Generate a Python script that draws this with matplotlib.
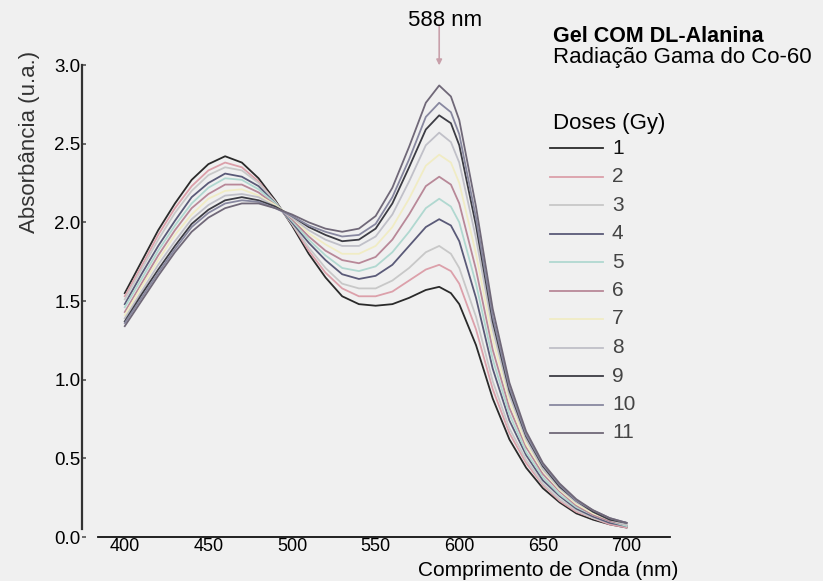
import matplotlib
matplotlib.use("Agg")
import matplotlib.pyplot as plt
from matplotlib.lines import Line2D

plt.rcParams['font.family'] = ['Liberation Sans', 'DejaVu Sans']

# wavelength grid (nm)
wavelength = [400, 410, 420, 430, 440, 450, 460, 470, 480, 490, 500, 510, 520, 530,
              540, 550, 560, 570, 580, 588, 595, 600, 610, 620, 630, 640, 650, 660,
              670, 680, 690, 700]

# absorbance per dose
dose_1 = [1.55, 1.75, 1.95, 2.12, 2.27, 2.37, 2.42, 2.38, 2.28, 2.14, 1.98, 1.80, 1.65, 1.53,
          1.48, 1.47, 1.48, 1.52, 1.57, 1.59, 1.55, 1.48, 1.22, 0.88, 0.62, 0.44, 0.31, 0.22,
          0.15, 0.11, 0.08, 0.06]
dose_2 = [1.53, 1.72, 1.92, 2.09, 2.23, 2.33, 2.38, 2.35, 2.26, 2.13, 1.99, 1.82, 1.68, 1.58,
          1.53, 1.53, 1.56, 1.63, 1.70, 1.73, 1.69, 1.61, 1.32, 0.94, 0.66, 0.47, 0.33, 0.23,
          0.16, 0.12, 0.08, 0.06]
dose_3 = [1.51, 1.70, 1.89, 2.06, 2.20, 2.30, 2.35, 2.33, 2.25, 2.13, 1.99, 1.84, 1.71, 1.61,
          1.58, 1.58, 1.63, 1.71, 1.81, 1.85, 1.80, 1.71, 1.40, 0.99, 0.69, 0.49, 0.34, 0.24,
          0.17, 0.12, 0.09, 0.07]
dose_4 = [1.48, 1.67, 1.85, 2.01, 2.16, 2.25, 2.31, 2.29, 2.23, 2.12, 2.00, 1.87, 1.76, 1.67,
          1.64, 1.66, 1.73, 1.85, 1.97, 2.02, 1.98, 1.88, 1.52, 1.07, 0.74, 0.52, 0.36, 0.26,
          0.18, 0.13, 0.09, 0.07]
dose_5 = [1.46, 1.64, 1.82, 1.98, 2.12, 2.22, 2.28, 2.27, 2.21, 2.12, 2.01, 1.89, 1.79, 1.71,
          1.69, 1.72, 1.81, 1.94, 2.09, 2.15, 2.10, 2.00, 1.61, 1.13, 0.78, 0.54, 0.38, 0.27,
          0.19, 0.14, 0.10, 0.07]
dose_6 = [1.43, 1.61, 1.79, 1.95, 2.09, 2.18, 2.24, 2.24, 2.19, 2.11, 2.02, 1.91, 1.82, 1.76,
          1.74, 1.78, 1.89, 2.05, 2.23, 2.29, 2.24, 2.12, 1.70, 1.19, 0.82, 0.57, 0.40, 0.29,
          0.20, 0.14, 0.10, 0.08]
dose_7 = [1.41, 1.59, 1.76, 1.92, 2.05, 2.15, 2.20, 2.21, 2.17, 2.11, 2.03, 1.93, 1.86, 1.80,
          1.80, 1.85, 1.97, 2.15, 2.36, 2.43, 2.38, 2.25, 1.80, 1.26, 0.86, 0.59, 0.42, 0.30,
          0.21, 0.15, 0.11, 0.08]
dose_8 = [1.39, 1.56, 1.73, 1.88, 2.02, 2.11, 2.17, 2.18, 2.16, 2.10, 2.03, 1.95, 1.89, 1.85,
          1.85, 1.91, 2.05, 2.26, 2.49, 2.57, 2.51, 2.38, 1.90, 1.32, 0.90, 0.62, 0.43, 0.31,
          0.22, 0.16, 0.11, 0.08]
dose_9 = [1.37, 1.54, 1.70, 1.85, 1.99, 2.08, 2.14, 2.16, 2.14, 2.10, 2.04, 1.97, 1.92, 1.88,
          1.89, 1.96, 2.12, 2.35, 2.59, 2.68, 2.63, 2.49, 1.98, 1.37, 0.93, 0.64, 0.45, 0.32,
          0.23, 0.16, 0.11, 0.09]
dose_10 = [1.36, 1.52, 1.68, 1.83, 1.97, 2.06, 2.12, 2.14, 2.13, 2.09, 2.04, 1.98, 1.94, 1.91,
           1.92, 1.99, 2.16, 2.40, 2.67, 2.76, 2.70, 2.56, 2.03, 1.40, 0.95, 0.65, 0.46, 0.33,
           0.23, 0.17, 0.12, 0.09]
dose_11 = [1.34, 1.50, 1.66, 1.81, 1.94, 2.03, 2.09, 2.12, 2.12, 2.09, 2.05, 2.00, 1.96, 1.94,
           1.96, 2.04, 2.22, 2.48, 2.76, 2.87, 2.80, 2.65, 2.10, 1.45, 0.98, 0.67, 0.47, 0.34,
           0.24, 0.17, 0.12, 0.09]

curves = [dose_1, dose_2, dose_3, dose_4, dose_5, dose_6, dose_7, dose_8, dose_9, dose_10, dose_11]
dose_labels = ['1', '2', '3', '4', '5', '6', '7', '8', '9', '10', '11']
colors = ['#2a2a2a', '#dca0aa', '#c8c8c8', '#5a5a78', '#b0d8d0', '#b88898',
          '#f0ecc4', '#c0c0c8', '#3c3c44', '#8888a0', '#706878']

W, H = 823, 581
bg = '#f0f0f0'

def fx(px):
    return px / W

def fy(py):
    return 1 - py / H

fig = plt.figure(figsize=(W / 100, H / 100), dpi=100, facecolor=bg)
ax = fig.add_axes([fx(98), fy(537), fx(670) - fx(98), fy(65) - fy(537)])
ax.set_facecolor(bg)

for vals, c in zip(curves, colors):
    ax.plot(wavelength, vals, color=c, lw=1.3)

ax.set_xlim(384, 726)
ax.set_ylim(0, 3.0)

ax.spines['top'].set_visible(False)
ax.spines['right'].set_visible(False)
ax.spines['left'].set_position(('outward', 11.5))
ax.spines['left'].set_bounds(0.05, 3.0)
ax.spines['left'].set_color('#333333')
ax.spines['left'].set_linewidth(1.6)
ax.spines['bottom'].set_color('#111111')
ax.spines['bottom'].set_linewidth(1.3)

ax.set_xticks([400, 450, 500, 550, 600, 650, 700])
ax.set_yticks([0, 0.5, 1.0, 1.5, 2.0, 2.5, 3.0])
ax.set_yticklabels(['0.0', '0.5', '1.0', '1.5', '2.0', '2.5', '3.0'])
ax.tick_params(axis='x', length=0, pad=1, labelsize=13)
ax.tick_params(axis='y', length=3, width=1.2, direction='in', pad=1, labelsize=13.5,
               color='#555555')

fig.text(fx(678), fy(571), 'Comprimento de Onda (nm)', ha='right', va='center', fontsize=15)
fig.text(fx(30), fy(142), 'Absorbância (u.a.)', rotation=90, ha='center', va='center',
         fontsize=16, color='#333333')

# peak annotation
ax.annotate('', xy=(588, 2.98), xytext=(588, 3.27), annotation_clip=False,
            arrowprops=dict(arrowstyle='-|>', color='#c8a0aa', lw=1.2, mutation_scale=8))
fig.text(fx(445), fy(20), '588 nm', ha='center', va='center', fontsize=16)

# legend block
fig.text(fx(553), fy(37), 'Gel COM DL-Alanina', ha='left', va='center', fontsize=15.5,
         fontweight='bold')
fig.text(fx(553), fy(57), 'Radiação Gama do Co-60', ha='left', va='center', fontsize=16)
fig.text(fx(553), fy(123), 'Doses (Gy)', ha='left', va='center', fontsize=16)
for i, (lab, c) in enumerate(zip(dose_labels, colors)):
    y = 148 + 28.5 * i
    fig.add_artist(Line2D([fx(550), fx(603)], [fy(y), fy(y)], color=c, lw=1.3,
                          transform=fig.transFigure))
    fig.text(fx(612), fy(y), lab, ha='left', va='center', fontsize=15,
             color='#111111' if i == 0 else '#444444')

fig.savefig('out.png', dpi=100, facecolor=bg)
